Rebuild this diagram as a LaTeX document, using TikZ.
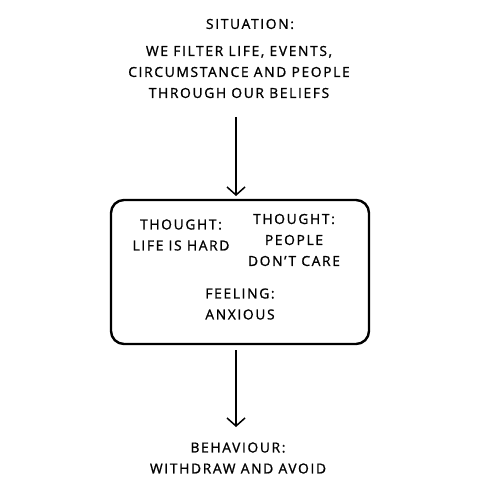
\documentclass[tikz,border=0pt]{standalone}
\usepackage{fontspec}
\setmainfont[LetterSpace=12,FakeBold=1.2]{Open Sans}
\usetikzlibrary{arrows.meta}
\begin{document}
\begin{tikzpicture}[x=1pt,y=-1pt,
  txt/.style={font=\fontsize{13.8}{21}\selectfont, align=center, inner sep=0pt, text=black},
  arr/.style={line width=1.8pt, -{Straight Barb[length=8pt,width=18pt,line width=1.5pt]}},
  frame/.style={draw=black, line width=2.4pt, rounded corners=13pt}]
\useasboundingbox (0,0) rectangle (500,500);
\node[txt] (sit) at (250,24) {SITUATION:};
\node[txt] (filter) at (239,72) {WE FILTER LIFE, EVENTS,\\CIRCUMSTANCE AND PEOPLE\\THROUGH OUR BELIEFS};
\node[frame, minimum width=258, minimum height=144] (box) at (240,272) {};
\node[txt] (t1) at (181,235) {THOUGHT:\\LIFE IS HARD};
\node[txt] (t2) at (294,240) {THOUGHT:\\PEOPLE\\DON'T CARE};
\node[txt] (f) at (240,304) {FEELING:\\ANXIOUS};
\node[txt] (beh) at (238,458) {BEHAVIOUR:\\WITHDRAW AND AVOID};
\coordinate (a1s) at (236,117);
\coordinate (a1e) at (236,196);
\coordinate (a2s) at (236,350);
\coordinate (a2e) at (236,427);
\draw[arr] (a1s) -- (a1e);
\draw[arr] (a2s) -- (a2e);
\end{tikzpicture}
\end{document}
